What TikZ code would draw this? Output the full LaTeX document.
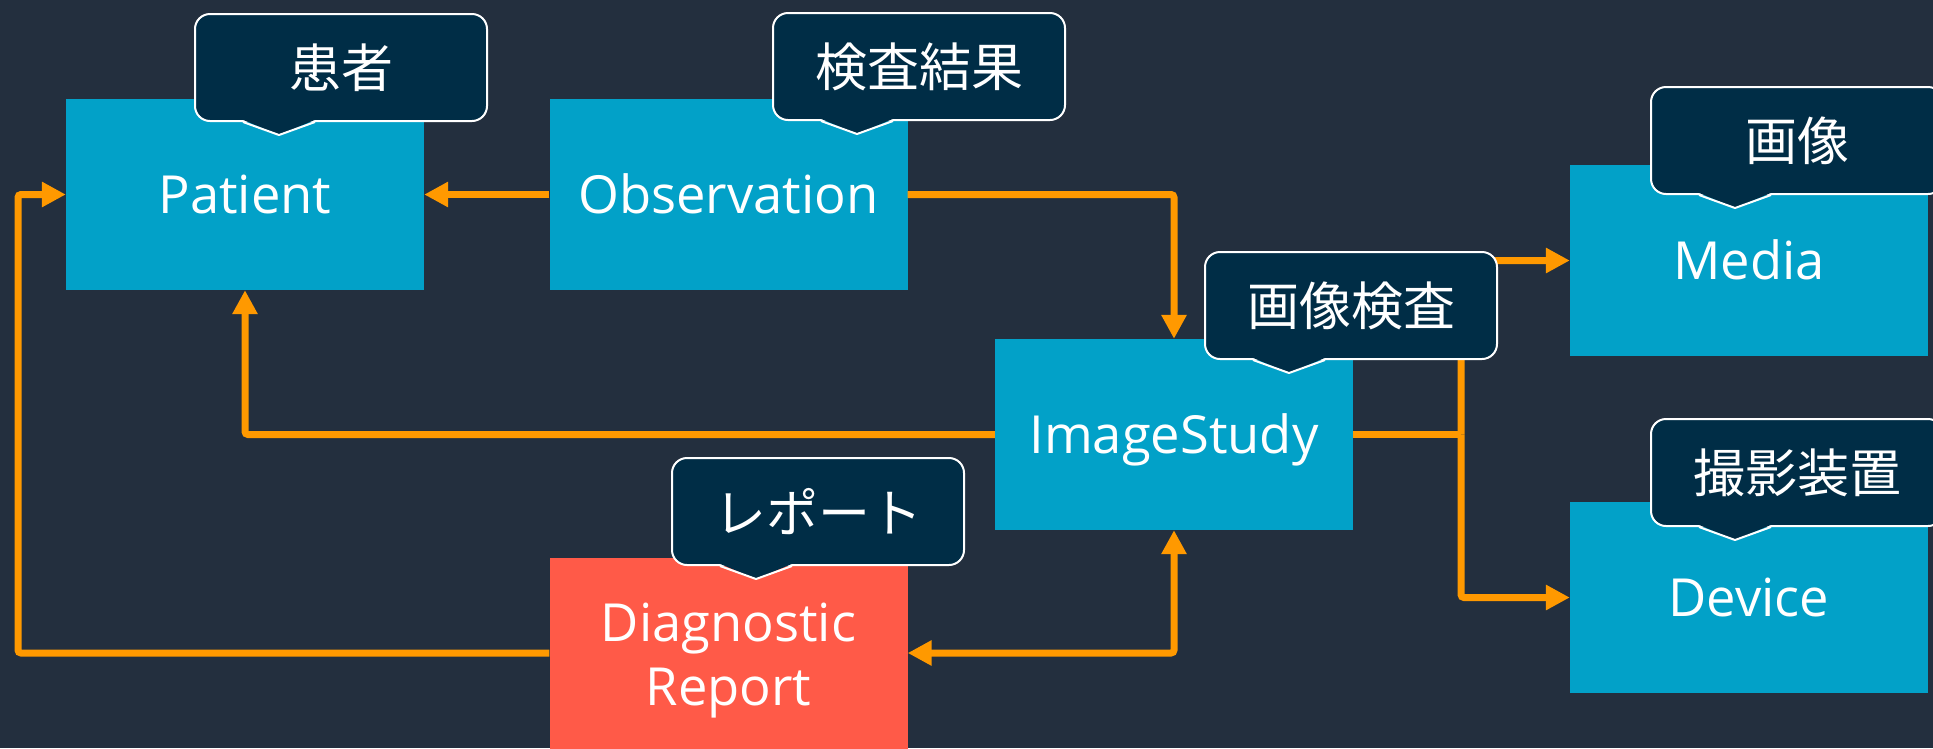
\documentclass[tikz,border=0pt]{standalone}
\usepackage{fontspec}
\setmainfont{Open Sans}
\newfontfamily\jp{Noto Sans CJK JP}
\usetikzlibrary{arrows.meta}
\definecolor{bgc}{RGB}{35,47,62}
\definecolor{boxc}{RGB}{2,161,200}
\definecolor{redc}{RGB}{255,90,72}
\definecolor{orc}{RGB}{255,153,0}
\definecolor{calc}{RGB}{0,45,70}
\tikzset{
  x=1pt, y=-1pt,
  entity/.style={fill=boxc, text=white, minimum width=358pt, minimum height=191pt,
    inner sep=0pt, font=\fontsize{52.5}{60}\selectfont, text height=37pt, text depth=0pt},
  redentity/.style={fill=redc, minimum width=358pt, minimum height=191pt, inner sep=0pt},
  redtext/.style={text=white, align=center, inner sep=0pt,
    font=\fontsize{52.5}{64}\selectfont},
  cbox/.style={fill=calc, draw=white, line width=2pt, rounded corners=15pt,
    minimum width=292pt, minimum height=107pt, anchor=north west, text=white,
    font=\jp\fontsize{52}{60}\selectfont, inner sep=0pt},
  conn/.style={draw=orc, line width=7pt, rounded corners=3pt,
    -{Triangle[length=24pt,width=24pt]}},
  connboth/.style={conn, {Triangle[length=24pt,width=24pt]}-{Triangle[length=24pt,width=24pt]}},
}
\newcommand{\ptr}[1]{%
  \begin{scope}[shift={(#1.south west)}]
    \fill[calc] (47,-3) -- (85,13) -- (123,-3) -- cycle;
    \draw[white, line width=2pt, line join=round] (49,0) -- (85,13) -- (121,0);
  \end{scope}}
\begin{document}
\begin{tikzpicture}
\useasboundingbox (0,0) rectangle (1933,748);
\clip (0,0) rectangle (1933,748);
\fill[bgc] (0,0) rectangle (1933,748);

% entities
\node[entity] (pat) at (245,194.5) {Patient};
\node[entity] (obs) at (728.5,194.5) {Observation};
\node[entity] (img) at (1174,434.5) {ImageStudy};
\node[entity] (med) at (1749,260.5) {Media};
\node[entity] (dev) at (1749,597.5) {Device};
\node[redentity] (dr) at (728.5,653) {};
\node[redtext] (drt) at (728.5,661) {Diagnostic\\Report};

\coordinate (lft) at (18,653);
\coordinate (jn) at (1461,434.5);

% connectors
\draw[conn] (obs.west) -- (pat.east);
\draw[conn] (obs.east) -| (img.north);
\draw[conn] (img.west) -| (pat.south);
\draw[conn] (dr.west) -- (lft) |- (pat.west);
\draw[connboth] (dr.east) -| (img.south);
\draw[draw=orc, line width=7pt] (img.east) -- (jn);
\draw[conn] (jn) |- (med.west);
\draw[conn] (jn) |- (dev.west);

% callouts
\node[cbox] (cpat) at (194,13) {患者};
\ptr{cpat}
\node[cbox] (cobs) at (772,12) {検査結果};
\ptr{cobs}
\node[cbox] (cimg) at (1204,251) {画像検査};
\ptr{cimg}
\node[cbox] (cmed) at (1650,86) {画像};
\ptr{cmed}
\node[cbox] (cdev) at (1650,418) {撮影装置};
\ptr{cdev}
\node[cbox] (cdr) at (671,457) {レポート};
\ptr{cdr}
\end{tikzpicture}
\end{document}
